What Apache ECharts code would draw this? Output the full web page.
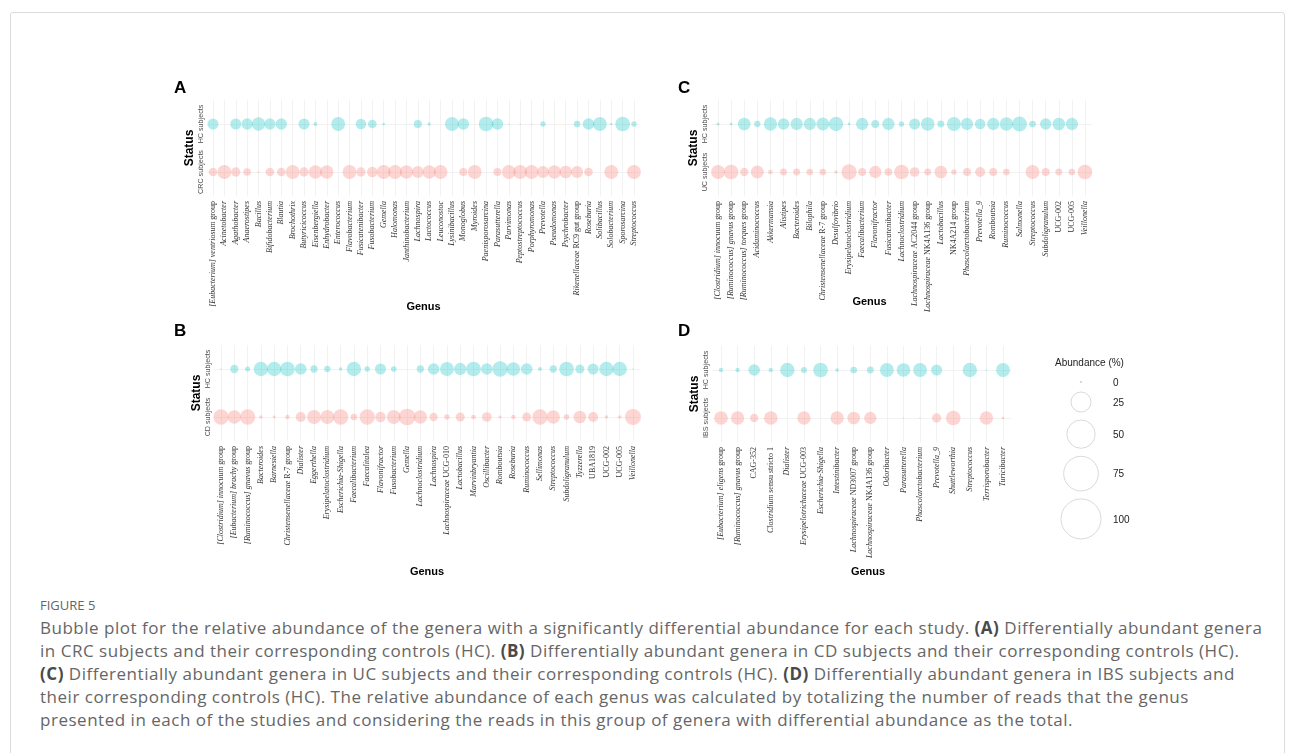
<!DOCTYPE html>
<html>
<head>
<meta charset="utf-8">
<title>Figure 5</title>
<script src="https://cdn.jsdelivr.net/npm/echarts@6/dist/echarts.min.js"></script>
<style>
  html, body { margin: 0; padding: 0; background: #fff; }
  body { width: 1295px; height: 753px; position: relative; overflow: hidden; font-family: 'Open Sans', sans-serif; }
  .frame { position: absolute; left: 10px; top: 12px; width: 1273px; height: 800px; border: 1px solid #dcdcdc; border-radius: 3px; }
  #chart { position: absolute; left: 0; top: 0; width: 1295px; height: 590px; }
  .caption { position: absolute; left: 40px; top: 594px; color: #666; white-space: nowrap; }
  .fig { font-size: 13px; line-height: 22px; color: #666; }
  .txt { font-size: 17px; line-height: 23px; letter-spacing: 0.52px; }
  .txt b { color: #4a4a4a; font-weight: 700; }
</style>
</head>
<body>
<div class="frame"></div>
<div id="chart"></div>
<div class="caption">
  <div class="fig">FIGURE 5</div>
  <div class="txt">
    Bubble plot for the relative abundance of the genera with a significantly differential abundance for each study. <b>(A)</b> Differentially abundant genera<br>
    in CRC subjects and their corresponding controls (HC). <b>(B)</b> Differentially abundant genera in CD subjects and their corresponding controls (HC).<br>
    <b>(C)</b> Differentially abundant genera in UC subjects and their corresponding controls (HC). <b>(D)</b> Differentially abundant genera in IBS subjects and<br>
    their corresponding controls (HC). The relative abundance of each genus was calculated by totalizing the number of reads that the genus<br>
    presented in each of the studies and considering the reads in this group of genera with differential abundance as the total.
  </div>
</div>
<script>
// abundance (%) per genus, 0 = not shown
const genusA = ['[Eubacterium] ventriosum group', 'Acinetobacter', 'Agathobacter', 'Anaerostipes', 'Bacillus',
  'Bifidobacterium', 'Blautia', 'Brochothrix', 'Butyricicoccus', 'Eisenbergiella', 'Enhydrobacter', 'Enterococcus',
  'Flavobacterium', 'Fusicatenibacter', 'Fusobacterium', 'Gemella', 'Halomonas', 'Janthinobacterium', 'Lachnospira',
  'Lactococcus', 'Leuconostoc', 'Lysinibacillus', 'Monoglobus', 'Myroides', 'Paenisporosarcina', 'Parasutterella',
  'Parvimonas', 'Peptostreptococcus', 'Porphyromonas', 'Prevotella', 'Pseudomonas', 'Psychrobacter',
  'Rikenellaceae RC9 gut group', 'Roseburia', 'Solibacillus', 'Solobacterium', 'Sporosarcina', 'Streptococcus'];
const hcA = [7.6, 0, 7.6, 8, 11, 8, 8, 0, 7.6, 1, 0, 12, 0, 7, 4.7, 0.45, 0, 0, 4, 0.7, 0, 12, 8.5, 0, 13.5, 8.5,
  0.1, 0.1, 0.1, 1.8, 0, 0, 2.8, 8.5, 12, 0.4, 13.5, 1.8];
const crcA = [4.7, 12, 5.4, 3.7, 0.2, 4.7, 4.7, 12, 5.4, 11, 11, 0, 12, 5.4, 7, 12, 12, 11, 9, 11, 12, 0, 4, 12, 0, 4,
  12, 12, 12, 9, 11, 10, 9, 4.7, 0, 12, 0, 12];

const genusB = ['[Clostridium] innocuum group', '[Eubacterium] brachy group', '[Ruminococcus] gnavus group',
  'Bacteroides', 'Barnesiella', 'Christensenellaceae R-7 group', 'Dialister', 'Eggerthella', 'Erysipelatoclostridium',
  'Escherichia-Shigella', 'Faecalibacterium', 'Faecalitalea', 'Flavonifractor', 'Fusobacterium', 'Gemella',
  'Lachnoclostridium', 'Lachnospira', 'Lachnospiraceae UCG-010', 'Lactobacillus', 'Marvinbryantia', 'Oscillibacter',
  'Romboutsia', 'Roseburia', 'Ruminococcus', 'Sellimonas', 'Streptococcus', 'Subdoligranulum', 'Tyzzerella',
  'UBA1819', 'UCG-002', 'UCG-005', 'Veillonella'];
const hcB = [0.1, 4.3, 1.6, 13, 13, 13.5, 8.5, 3.3, 2.5, 0.8, 13, 1.8, 7.6, 2, 0, 3.3, 8.5, 12, 9.5, 13.5, 8.5, 14.6,
  11.7, 8.5, 1, 3.3, 13.5, 5, 7.6, 13, 13, 0.1];
const cdB = [14.6, 11, 14.6, 0.7, 0.5, 1.2, 6.3, 12, 12, 14.6, 2.8, 14.6, 7, 12, 17.4, 11, 4.3, 1.8, 5, 1.4, 5.9, 0.6,
  1.2, 5, 14.6, 11, 2, 10, 6.3, 0.7, 0.8, 16];

const genusC = ['[Clostridium] innocuum group', '[Ruminococcus] gnavus group', '[Ruminococcus] torques group',
  'Acidaminococcus', 'Akkermansia', 'Alistipes', 'Bacteroides', 'Bilophila', 'Christensenellaceae R-7 group',
  'Desulfovibrio', 'Erysipelatoclostridium', 'Faecalibacterium', 'Flavonifractor', 'Fusicatenibacter',
  'Lachnoclostridium', 'Lachnospiraceae AC2044 group', 'Lachnospiraceae NK4A136 group', 'Lactobacillus',
  'NK4A214 group', 'Phascolarctobacterium', 'Prevotella_9', 'Romboutsia', 'Ruminococcus', 'Salmonella',
  'Streptococcus', 'Subdoligranulum', 'UCG-002', 'UCG-005', 'Veillonella'];
const hcC = [0.6, 0.5, 10, 2.5, 11, 8.5, 9.5, 9.5, 10.5, 13, 0.5, 9.5, 4, 9.5, 1.8, 7.6, 11.7, 3, 12, 9.5, 7, 9.5, 11,
  14, 2.8, 8, 10, 9.5, 0];
const ucC = [12, 13.5, 4.3, 10.5, 1.4, 3, 3, 2.8, 2.8, 0.7, 14.6, 4, 9.5, 3.7, 13.5, 5.9, 3, 10, 1.8, 4, 6.3, 4, 2.8,
  0, 12, 4, 3, 2.8, 13.5];

const genusD = ['[Eubacterium] eligens group', '[Ruminococcus] gnavus group', 'CAG-352', 'Clostridium sensu stricto 1',
  'Dialister', 'Erysipelotrichaceae UCG-003', 'Escherichia-Shigella', 'Intestinibacter', 'Lachnospiraceae ND3007 group',
  'Lachnospiraceae NK4A136 group', 'Odoribacter', 'Parasutterella', 'Phascolarctobacterium', 'Prevotella_9',
  'Shuttleworthia', 'Streptococcus', 'Terrisporobacter', 'Turicibacter'];
const hcD = [1.2, 1.2, 8.5, 1.2, 13, 2.3, 13.5, 0.8, 2.8, 3, 12, 11.7, 12, 7.6, 0, 13, 0.15, 12];
const ibsD = [11.7, 11, 4.3, 11.7, 0, 11, 0, 11, 10, 9.5, 0, 0.1, 0.15, 5.4, 13.5, 0, 11, 0.45];

const legendBreaks = [0, 25, 50, 75, 100];

const HC_COLOR = 'rgba(0,191,196,0.3)';
const CASE_COLOR = 'rgba(248,118,109,0.3)';
const GRID_COLOR = '#ececec';

// area scale: 100 % -> 40 px diameter
function bubble(v) {
  return Math.max(1.3, 40 * Math.sqrt(v / 100));
}

// genus names italic, strain codes / "group" upright
function genusLabel(name) {
  const words = name.split(' ');
  let out = '';
  words.forEach((w, k) => {
    const upright = w === 'group' || w === 'gut' || w === 'sensu' || w === 'stricto' || /^[A-Z0-9-]*\d[A-Z0-9-]*$/.test(w);
    out += '{' + (upright ? 'n' : 'i') + '|' + w + (k < words.length - 1 ? ' ' : '') + '}';
  });
  return out;
}

const panels = [
  { key: 'A', lx: 169, ly: 75, genus: genusA, hc: hcA, other: crcA, otherLabel: 'CRC subjects', x0: 213, x1: 634, top: 100, nameGap: 105, nameShift: 0 },
  { key: 'B', lx: 169, ly: 318, genus: genusB, hc: hcB, other: cdB, otherLabel: 'CD subjects', x0: 221, x1: 633, top: 345, nameGap: 125, nameShift: 0 },
  { key: 'C', lx: 673, ly: 75, genus: genusC, hc: hcC, other: ucC, otherLabel: 'UC subjects', x0: 718, x1: 1085, top: 100, nameGap: 100, nameShift: -32 },
  { key: 'D', lx: 673, ly: 318, genus: genusD, hc: hcD, other: ibsD, otherLabel: 'IBS subjects', x0: 721, x1: 1003, top: 346, nameGap: 124, nameShift: 6 }
];

const grids = [], xAxes = [], yAxes = [], series = [], titles = [];
panels.forEach((p, i) => {
  const n = p.genus.length;
  const step = (p.x1 - p.x0) / (n - 1);
  grids.push({ left: p.x0 - step / 2, top: p.top, width: step * n, height: 96, outerBoundsMode: 'none' });
  titles.push({ text: p.key, left: p.lx, top: p.ly,
    textStyle: { fontSize: 17, fontWeight: 'bold', color: '#000', fontFamily: 'Liberation Sans' } });
  const pad = p.nameShift < 0 ? [0, -2 * p.nameShift, 0, 0] : [0, 0, 0, 2 * p.nameShift];
  xAxes.push({
    type: 'category', gridIndex: i, data: p.genus,
    name: 'Genus', nameLocation: 'middle', nameGap: p.nameGap, nameMoveOverlap: false,
    nameTextStyle: { fontSize: 11, fontWeight: 'bold', color: '#000', fontFamily: 'Liberation Sans', padding: pad },
    axisLine: { show: false }, axisTick: { show: false },
    splitLine: { show: true, alignWithLabel: true, interval: 0, lineStyle: { color: GRID_COLOR, width: 0.7 } },
    axisLabel: {
      interval: 0, rotate: 90, margin: 5, formatter: genusLabel, hideOverlap: false,
      rich: {
        i: { fontFamily: 'Liberation Serif', fontStyle: 'italic', fontSize: 8, color: '#333' },
        n: { fontFamily: 'Liberation Serif', fontStyle: 'normal', fontSize: 8, color: '#333' }
      }
    }
  });
  yAxes.push({
    type: 'category', gridIndex: i, data: [p.otherLabel, 'HC subjects'],
    name: 'Status', nameLocation: 'middle', nameGap: 12, nameRotate: 90, nameMoveOverlap: false,
    nameTextStyle: { fontSize: 12, fontWeight: 'bold', color: '#000', fontFamily: 'Liberation Sans' },
    axisLine: { show: false }, axisTick: { show: false },
    splitLine: { show: true, alignWithLabel: true, interval: 0, lineStyle: { color: GRID_COLOR, width: 0.7 } },
    axisLabel: { interval: 0, hideOverlap: false, rotate: 90, margin: 3, fontSize: 7.2, color: '#4d4d4d',
      fontFamily: 'Liberation Sans' }
  });
  [[p.other, 0, CASE_COLOR], [p.hc, 1, HC_COLOR]].forEach(([vals, row, color]) => {
    series.push({
      type: 'scatter', xAxisIndex: i, yAxisIndex: i, silent: true,
      data: vals.map((v, j) => [j, row, v]).filter(d => d[2] > 0),
      symbolSize: d => bubble(d[2]),
      itemStyle: { color: color, borderWidth: 0, opacity: 1 }
    });
  });
});

// size legend
const legendItems = [{ type: 'text', left: 1055, top: 358,
  style: { text: 'Abundance (%)', fontSize: 10, fill: '#222', fontFamily: 'Liberation Sans' } }];
let cy = 382, prevH = null;
legendBreaks.forEach(v => {
  const d = v > 0 ? bubble(v) : 1.3;
  const h = Math.max(d, 4) + 8;
  if (prevH !== null) cy += (prevH + h) / 2;
  prevH = h;
  legendItems.push({ type: 'circle', shape: { cx: 1081, cy: cy, r: d / 2 },
    style: { fill: v > 0 ? 'none' : '#bbb', stroke: '#cfcfcf', lineWidth: 0.8 } });
  legendItems.push({ type: 'text', x: 1113, y: cy + 1,
    style: { text: String(v), fontSize: 10, fill: '#222', fontFamily: 'Liberation Sans', verticalAlign: 'middle' } });
});

const chart = echarts.init(document.getElementById('chart'), null, { renderer: 'canvas' });
chart.setOption({
  animation: false,
  title: titles,
  grid: grids,
  xAxis: xAxes,
  yAxis: yAxes,
  series: series,
  graphic: legendItems
});
</script>
</body>
</html>
